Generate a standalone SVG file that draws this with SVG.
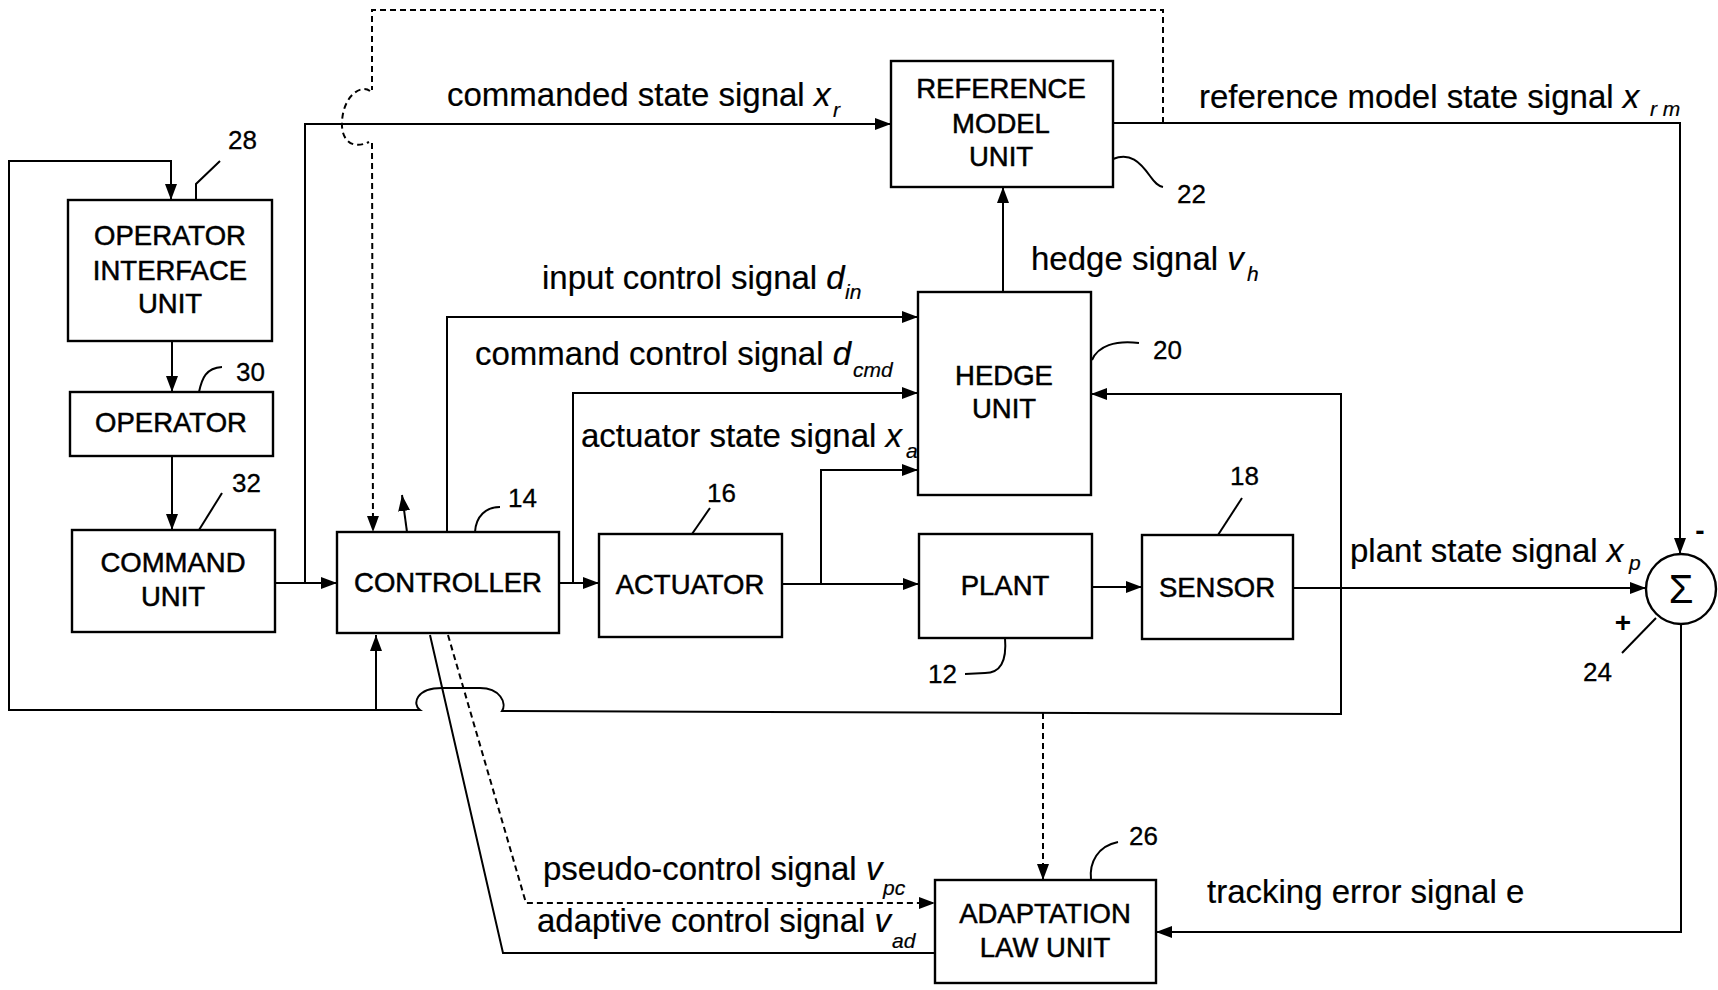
<svg xmlns="http://www.w3.org/2000/svg" width="1718" height="990" viewBox="0 0 1718 990">
<defs>
<marker id="ah" viewBox="0 0 16 12" refX="16" refY="6" markerWidth="16" markerHeight="12" markerUnits="userSpaceOnUse" orient="auto"><path d="M0,0 L16,6 L0,12 z" fill="#000"/></marker>
<style>
.bx{fill:#fff;stroke:#000;stroke-width:2.4}
.ln{fill:none;stroke:#000;stroke-width:2}
.ds{fill:none;stroke:#000;stroke-width:2;stroke-dasharray:6 4}
.ar{marker-end:url(#ah)}
text{font-family:"Liberation Sans",Arial,Helvetica,sans-serif;fill:#000}
.bt{font-size:27.5px;text-anchor:middle;stroke:#000;stroke-width:0.5}
.lb{font-size:33px;stroke:#000;stroke-width:0.2}
.nm{font-size:26px;stroke:#000;stroke-width:0.3}
.v{font-style:italic}
.s{font-size:21px;font-style:italic}
.sg{font-size:28px;font-weight:bold;text-anchor:middle}
</style>
</defs>
<rect width="1718" height="990" fill="#fff"/>

<g id="connectors">
<path class="ln ar" d="M275,583 L337,583"/>
<path class="ln ar" d="M305,583 L305,124 L891,124"/>
<path class="ln ar" d="M1113,123 L1680,123 L1680,554"/>
<path class="ln ar" d="M1003,292 L1003,187"/>
<path class="ln ar" d="M447,532 L447,317 L918,317"/>
<path class="ln ar" d="M573,583 L573,393 L918,393"/>
<path class="ln ar" d="M559,583 L599,583"/>
<path class="ln ar" d="M782,584 L919,584"/>
<path class="ln ar" d="M821,584 L821,470 L918,470"/>
<path class="ln ar" d="M1092,587 L1142,587"/>
<path class="ln ar" d="M1293,588 L1646,588"/>
<path class="ln ar" d="M1341,588 L1341,394 L1091,394"/>
<path class="ln ar" d="M1341,588 L1341,714 L502,711 C507,703 500,688 480,688 L442,688 C416,688 412,704 420,710 L9,710 L9,161 L171,161 L171,200"/>
<path class="ln ar" d="M376,710 L376,635"/>
<path class="ln ar" d="M172,341 L172,392"/>
<path class="ln ar" d="M172,456 L172,530"/>
<path class="ln ar" d="M1681,624 L1681,932 L1156,932"/>
<path class="ln" d="M935,953 L503,953 L430,635"/>
<path class="ds ar" d="M448,635 L526,903 L935,903"/>
<path class="ds ar" d="M1043,713 L1043,880"/>
<path class="ds" d="M1163,123 L1163,10 L372,10 L372,90"/>
<path class="ds" d="M370,91 C360,84 343,97 342,122 C341,140 352,150 369,142"/>
<path class="ds ar" d="M372,143 L373,532"/>
<path class="ln ar" d="M407,532 L402,495"/>
</g>

<g id="leaders" class="ln">
<path d="M196,200 L196,184 L220,161"/>
<path d="M199,392 C202,378 206,368 222,367"/>
<path d="M199,530 L222,493"/>
<path d="M475,532 C476,516 486,507 500,507"/>
<path d="M692,534 L710,508"/>
<path d="M1218,535 L1242,498"/>
<path d="M1005,638 C1007,662 1000,673 985,673 L965,674"/>
<path d="M1092,360 C1098,346 1115,340 1139,343"/>
<path d="M1113,159 C1130,152 1140,162 1150,176 C1155,183 1158,186 1163,187"/>
<path d="M1622,653 L1656,618"/>
<path d="M1091,880 C1089,862 1098,846 1118,842"/>
</g>

<g id="op-interface"><rect class="bx" x="68" y="200" width="204" height="141"/>
<text class="bt" x="170" y="245">OPERATOR</text><text class="bt" x="170" y="280">INTERFACE</text><text class="bt" x="170" y="313">UNIT</text></g>
<g id="operator"><rect class="bx" x="70" y="392" width="203" height="64"/><text class="bt" x="171" y="432">OPERATOR</text></g>
<g id="command-unit"><rect class="bx" x="72" y="530" width="203" height="102"/><text class="bt" x="173" y="572">COMMAND</text><text class="bt" x="173" y="606">UNIT</text></g>
<g id="controller"><rect class="bx" x="337" y="532" width="222" height="101"/><text class="bt" x="448" y="592">CONTROLLER</text></g>
<g id="actuator"><rect class="bx" x="599" y="534" width="183" height="103"/><text class="bt" x="690" y="594">ACTUATOR</text></g>
<g id="plant"><rect class="bx" x="919" y="534" width="173" height="104"/><text class="bt" x="1005" y="595">PLANT</text></g>
<g id="sensor"><rect class="bx" x="1142" y="535" width="151" height="104"/><text class="bt" x="1217" y="597">SENSOR</text></g>
<g id="hedge-unit"><rect class="bx" x="918" y="292" width="173" height="203"/><text class="bt" x="1004" y="385">HEDGE</text><text class="bt" x="1004" y="418">UNIT</text></g>
<g id="reference-model"><rect class="bx" x="891" y="61" width="222" height="126"/><text class="bt" x="1001" y="98">REFERENCE</text><text class="bt" x="1001" y="133">MODEL</text><text class="bt" x="1001" y="166">UNIT</text></g>
<g id="adaptation-law"><rect class="bx" x="935" y="880" width="221" height="103"/><text class="bt" x="1045" y="923">ADAPTATION</text><text class="bt" x="1045" y="957">LAW UNIT</text></g>
<g id="summer"><circle class="bx" cx="1681" cy="589" r="35"/><text x="1681" y="603" font-size="40" text-anchor="middle">Σ</text>
<text class="sg" x="1623" y="632">+</text><text class="sg" x="1700" y="540">-</text></g>

<g id="signal-labels">
<text class="lb" x="447" y="106">commanded state signal <tspan class="v">x</tspan><tspan class="s" x="833" y="117">r</tspan></text>
<text class="lb" x="1199" y="108" font-size="33.5">reference model state signal <tspan class="v">x</tspan><tspan class="s" x="1650" y="116">r m</tspan></text>
<text class="lb" x="1031" y="270">hedge signal <tspan class="v">v</tspan><tspan class="s" x="1247" y="281">h</tspan></text>
<text class="lb" x="542" y="289">input control signal <tspan class="v">d</tspan><tspan class="s" x="845" y="299">in</tspan></text>
<text class="lb" x="475" y="365">command control signal <tspan class="v">d</tspan><tspan class="s" x="853" y="377">cmd</tspan></text>
<text class="lb" x="581" y="447">actuator state signal <tspan class="v">x</tspan><tspan class="s" x="906" y="458">a</tspan></text>
<text class="lb" x="1350" y="562">plant state signal <tspan class="v">x</tspan><tspan class="s" x="1629" y="570">p</tspan></text>
<text class="lb" x="543" y="880">pseudo-control signal <tspan class="v">v</tspan><tspan class="s" x="883" y="895">pc</tspan></text>
<text class="lb" x="537" y="932">adaptive control signal <tspan class="v">v</tspan><tspan class="s" x="892" y="948">ad</tspan></text>
<text class="lb" x="1207" y="903">tracking error signal e</text>
</g>

<g id="ref-numbers">
<text class="nm" x="228" y="149">28</text>
<text class="nm" x="236" y="381">30</text>
<text class="nm" x="232" y="492">32</text>
<text class="nm" x="508" y="507">14</text>
<text class="nm" x="707" y="502">16</text>
<text class="nm" x="1230" y="485">18</text>
<text class="nm" x="928" y="683">12</text>
<text class="nm" x="1153" y="359">20</text>
<text class="nm" x="1177" y="203">22</text>
<text class="nm" x="1583" y="681">24</text>
<text class="nm" x="1129" y="845">26</text>
</g>
</svg>
